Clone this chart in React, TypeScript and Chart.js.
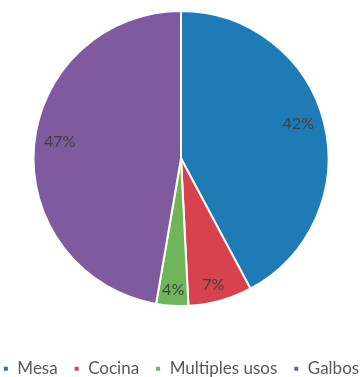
import React, { useEffect, useRef } from "react";
import { Chart, registerables } from "chart.js";

Chart.register(...registerables);

const categories = ["Mesa", "Cocina", "Multiples usos", "Galbos"];
const values = [42.2, 7.0, 3.5, 47.3];
const colors = ["#1f7bb6", "#d6434f", "#70b55a", "#7f5a9e"];
const labelRadius = [0.83, 0.885, 0.89, 0.83];
const labelAngleShift = [-2.6, 1.2, 0, 3];

const FONT = "Lato, 'Open Sans', sans-serif";

const pctLabels = {
  id: "pctLabels",
  afterDatasetsDraw(chart: any) {
    const ctx = chart.ctx;
    const meta = chart.getDatasetMeta(0);
    const data = chart.data.datasets[0].data as number[];
    const total = data.reduce((a, b) => a + b, 0);
    ctx.save();
    ctx.font = `16px ${FONT}`;
    ctx.fillStyle = "#404040";
    ctx.textAlign = "center";
    ctx.textBaseline = "middle";
    meta.data.forEach((arc: any, i: number) => {
      const { x, y, startAngle, endAngle, outerRadius } = arc.getProps(
        ["x", "y", "startAngle", "endAngle", "outerRadius"],
        true
      );
      const mid = (startAngle + endAngle) / 2 + (labelAngleShift[i] * Math.PI) / 180;
      const r = outerRadius * labelRadius[i];
      const txt = Math.round((data[i] / total) * 100) + "%";
      ctx.fillText(txt, x + Math.cos(mid) * r, y + Math.sin(mid) * r);
    });
    ctx.restore();
  },
};

export default function App() {
  const ref = useRef<HTMLCanvasElement>(null);
  useEffect(() => {
    document.body.style.margin = "0";
    const chart = new Chart(ref.current!, {
      type: "pie",
      data: {
        labels: categories,
        datasets: [
          {
            data: values,
            backgroundColor: colors,
            borderColor: "#ffffff",
            borderWidth: 2,
          },
        ],
      },
      options: {
        animation: false,
        responsive: false,
        maintainAspectRatio: false,
        layout: { padding: { top: 10, bottom: 0, left: -40, right: -40 } },
        plugins: {
          tooltip: { enabled: false },
          legend: {
            position: "bottom",
            maxHeight: 70,
            title: { display: true, text: "", padding: 0, font: { size: 31 } },
            labels: {
              boxWidth: 6,
              boxHeight: 6,
              padding: 16,
              color: "#595959",
              font: { size: 17, family: FONT },
            },
          },
        },
      },
      plugins: [pctLabels],
    });
    return () => chart.destroy();
  }, []);
  return (
    <div style={{ width: 362, height: 377, background: "#fff" }}>
      <canvas ref={ref} width={362} height={377} style={{ display: "block" }} />
    </div>
  );
}
